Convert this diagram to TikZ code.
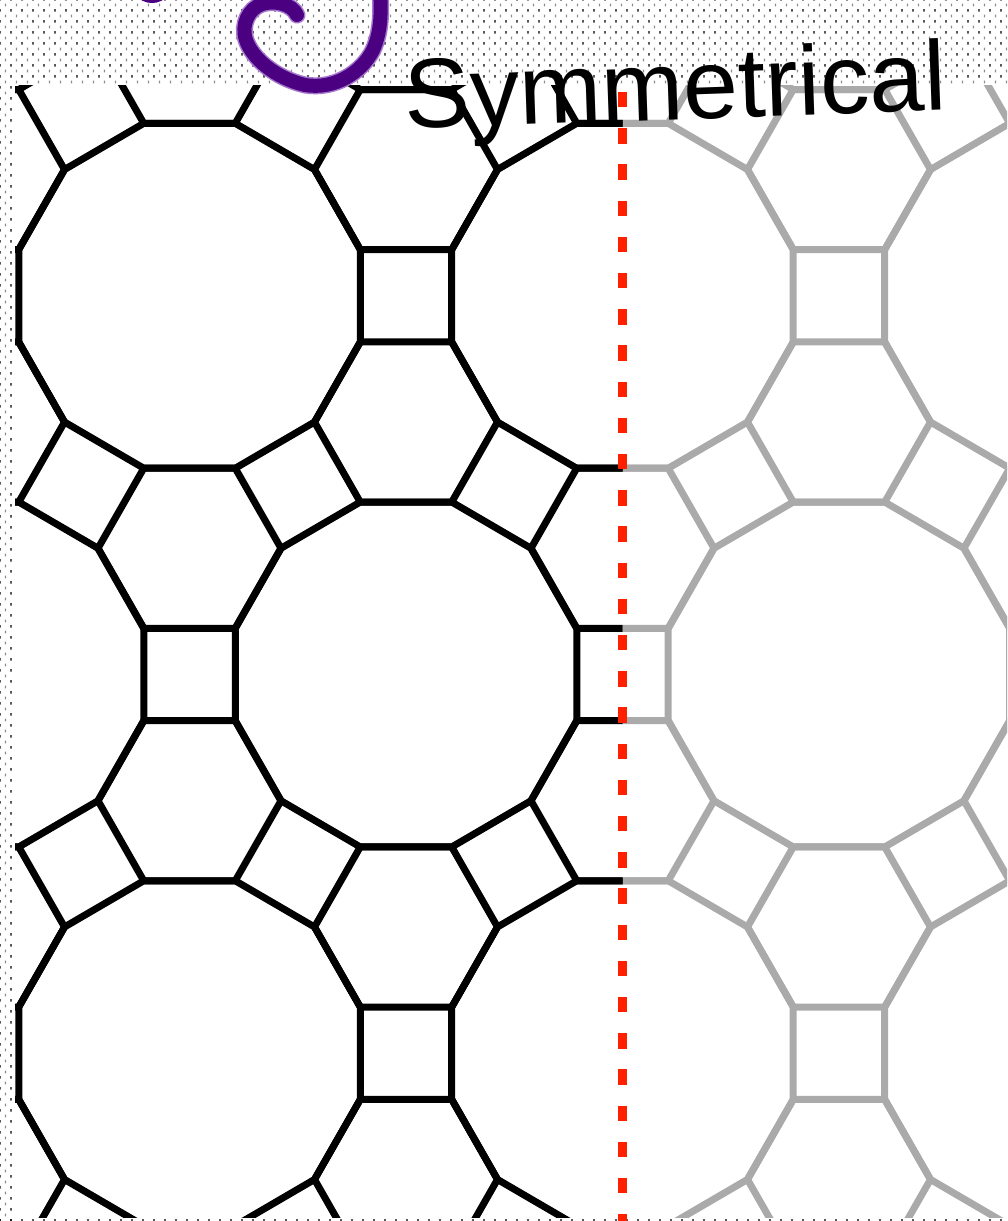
\documentclass[tikz,border=0pt]{standalone}
\usepackage{fontspec}
\setmainfont{Liberation Sans}
\definecolor{tilegrey}{RGB}{170,170,170}
\definecolor{dotgrey}{RGB}{140,140,140}
\definecolor{axisred}{RGB}{255,32,0}
\definecolor{inkpurple}{RGB}{75,0,130}
\definecolor{halopurple}{RGB}{165,120,205}
\newcommand\dodecat[2]{\draw[shift={(#1,#2)}] (15:176.77) -- (45:176.77) -- (75:176.77) -- (105:176.77) -- (135:176.77) -- (165:176.77) -- (195:176.77) -- (225:176.77) -- (255:176.77) -- (285:176.77) -- (315:176.77) -- (345:176.77) -- cycle;}
\newcommand\hexat[2]{\draw[shift={(#1,#2)}] (0:91.5) -- (60:91.5) -- (120:91.5) -- (180:91.5) -- (240:91.5) -- (300:91.5) -- cycle;}
\newcommand\tilingall{%
  \foreach \j in {-2,...,2}{\foreach \i in {-4,...,4}{%
    \pgfmathsetmacro\cx{432.98*(\i+0.5*\j)}%
    \pgfmathsetmacro\cy{374.97*\j}%
    \pgfmathsetmacro\cyu{\cy-249.98}%
    \pgfmathsetmacro\cyd{\cy+249.98}%
    \dodecat{\cx}{\cy}%
    \hexat{\cx}{\cyu}%
    \hexat{\cx}{\cyd}%
  }}}
\tikzset{
  tileline/.style={line width=5.25pt, line join=miter},
  inkstroke/.style={line width=10.5pt, line cap=round, draw=inkpurple},
  inkhalo/.style={line width=12.75pt, line cap=round, draw=halopurple},
  handtext/.style={anchor=base west, rotate=2, inner sep=0pt, font=\fontsize{74}{80}\selectfont},
}
\begin{document}
\begin{tikzpicture}[x=0.75pt, y=-0.75pt]
\useasboundingbox (0,0) rectangle (1007,1221);
% dotted background bands
\fill[black]
  \foreach \r in {0,...,7}{\foreach \c in {0,...,91}{(11*\c-0.7, 11*\r-2.0) rectangle ++(1.4,2.6)}};
\fill[dotgrey]
  \foreach \r in {0,...,7}{\foreach \c in {0,...,91}{(11*\c+4.8, 11*\r+3.7) rectangle ++(1.4,2.6)}};
\fill[black]
  \foreach \r in {8,...,111}{(-0.7, 11*\r-2.0) rectangle ++(1.4,2.6) (10.3, 11*\r-2.0) rectangle ++(1.4,2.6)};
\fill[dotgrey]
  \foreach \r in {8,...,110}{(4.8, 11*\r+3.7) rectangle ++(1.4,2.6)};
\fill[black]
  \foreach \c in {0,...,91}{(11*\c-0.7, 1219.0) rectangle ++(1.4,2.6)};
% grey mirrored half
\begin{scope}
  \clip (622.5,85) rectangle (1007,1217);
  \begin{scope}[shift={(406,674.5)}, yscale=1.01, tileline, draw=tilegrey]
    \tilingall
  \end{scope}
\end{scope}
% black half
\begin{scope}
  \clip (15,85) rectangle (622.5,1217);
  \begin{scope}[shift={(406,674.5)}, yscale=1.01, tileline, draw=black]
    \tilingall
  \end{scope}
\end{scope}
% red symmetry axis
\coordinate (axistop) at (622.5,92);
\coordinate (axisbot) at (622.5,1221);
\draw[axisred, line width=6.75pt, dash pattern=on 11.6pt off 15.55pt] (axistop) -- (axisbot);
% purple hand-drawn strokes
\draw[inkhalo] (297,15) .. controls (292,4) and (275,0) .. (262,4) .. controls (248,9) and (241,25) .. (246,40) .. controls (252,58) and (275,78) .. (305,85) .. controls (335,90) and (362,72) .. (373,50) .. controls (382,30) and (381,10) .. (380,-12);
\draw[inkstroke] (297,15) .. controls (292,4) and (275,0) .. (262,4) .. controls (248,9) and (241,25) .. (246,40) .. controls (252,58) and (275,78) .. (305,85) .. controls (335,90) and (362,72) .. (373,50) .. controls (382,30) and (381,10) .. (380,-12);
\draw[inkstroke] (140,-10) .. controls (147,-2) and (157,-2) .. (164,-10);
% handwritten label
\node[handtext, text=black] (title) at (405,129) {Symmetrical};
\end{tikzpicture}
\end{document}
